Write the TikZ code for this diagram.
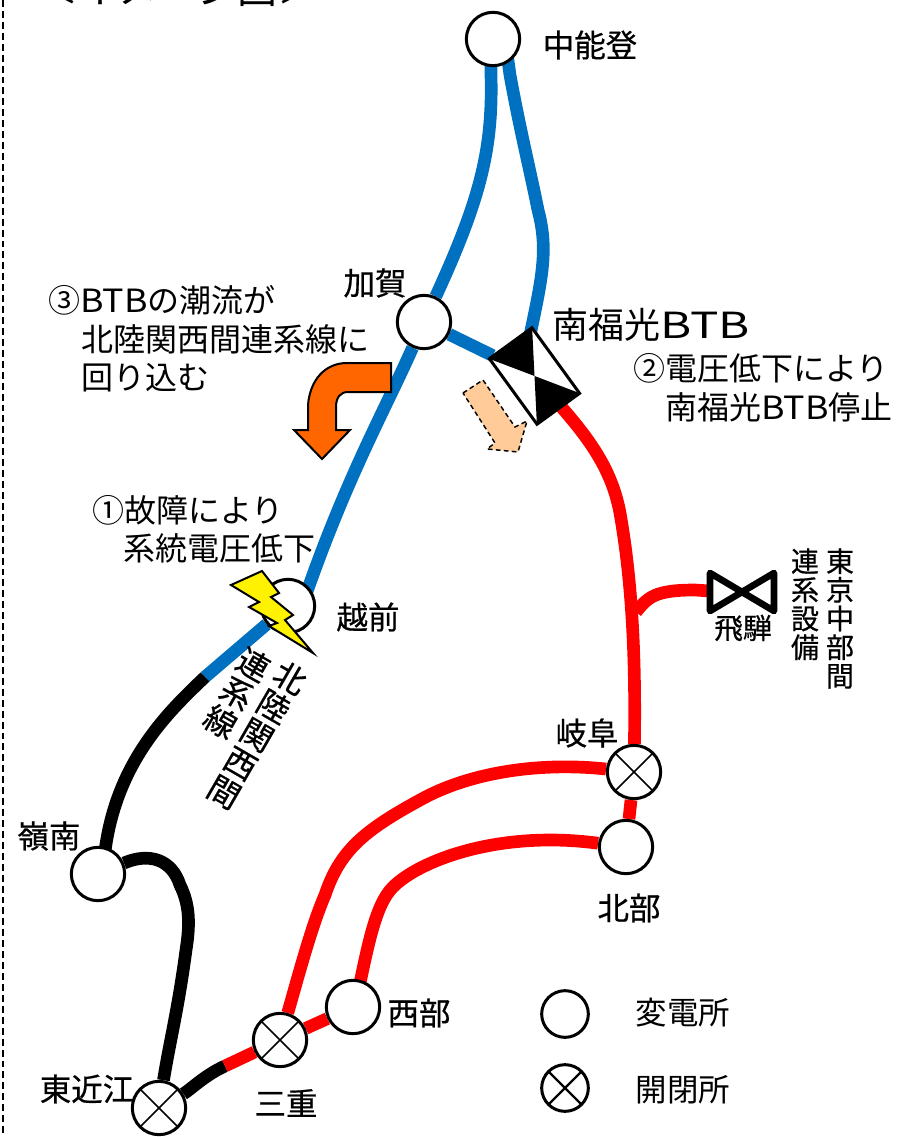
\documentclass[tikz,border=0pt]{standalone}
\usepackage{fontspec}
\usepackage{graphicx}
\setmainfont{Noto Sans CJK JP}
\newfontfamily\medfont[FakeBold=0.6]{Noto Sans CJK JP}
\usetikzlibrary{backgrounds,calc}
\definecolor{lineblue}{HTML}{0070C0}
\definecolor{linered}{HTML}{FF0000}
\definecolor{arroworange}{HTML}{FF6600}
\definecolor{arrowpeach}{HTML}{FFCC99}
\newcommand{\btbtxt}{\scalebox{1.12}[1]{BTB}}
\newcommand{\btbbig}{\scalebox{1.32}[1]{BTB}}
\tikzset{
  px/.style={x=0.75pt,y=-0.75pt},
  station/.style={circle,draw=black,fill=white,line width=2.25pt,inner sep=0pt,minimum size=40pt},
  legendst/.style={station,minimum size=35pt},
  crossed/.style={path picture={
    \draw[line width=#1]
      (path picture bounding box.north west) -- (path picture bounding box.south east)
      (path picture bounding box.north east) -- (path picture bounding box.south west);}},
  crossed/.default=1.1pt,
  wire/.style={line width=9.5pt,line cap=butt,line join=round},
  bluew/.style={wire,draw=lineblue},
  redw/.style={wire,draw=linered},
  blackw/.style={wire,draw=black},
  txt/.style={inner sep=0pt,anchor=west,font=\fontsize{24}{26}\selectfont},
  stname/.style={inner sep=0pt,font=\medfont\fontsize{23.6}{26}\selectfont},
  vtxt/.style={inner sep=0pt,align=center,font=\medfont\fontsize{21}{21.5}\selectfont},
  rtxt/.style={inner sep=0pt,align=center,rotate=-30,font=\medfont\fontsize{24}{24.7}\selectfont},
}
\begin{document}
\begin{tikzpicture}[px]
\useasboundingbox (0,0) rectangle (900,1137);
\clip (0,0) rectangle (900,1137);
\coordinate (dashtop) at (3,0);
\coordinate (dashbot) at (3,1137);
\draw[line width=1.1pt,dash pattern=on 5.2pt off 3pt] (dashtop) -- (dashbot);
\node[inner sep=0pt,font=\fontsize{30}{32}\selectfont] (title) at (178,-11) {＜イメージ図＞};
% stations
\node[station] (nn) at (493,39) {};
\node[station] (kg) at (424,322) {};
\node[station] (ec) at (288,606) {};
\node[station] (ry) at (98,874) {};
\node[station,crossed] (jo) at (159,1108) {};
\node[station,crossed] (mi) at (280,1040) {};
\node[station] (sb) at (353,1007) {};
\node[station,crossed] (gf) at (634,772) {};
\node[station] (hb) at (626,847) {};
% BTB
\node[draw=black,fill=white,line width=1.5pt,inner sep=0pt,minimum width=60pt,minimum height=38.7pt,rotate=-54] (btb) at (534.5,376) {};
\fill[black] (btb.south west) -- (btb.north west) -- (btb.center) -- cycle;
\fill[black] (btb.north east) -- (btb.south east) -- (btb.center) -- cycle;
\draw[line width=1.5pt,line join=miter] (btb.north west) -- (btb.north east) -- (btb.south east) -- (btb.south west) -- cycle;
% junction points
\coordinate (bluend) at (205,677);
\coordinate (redend) at (225,1066);
\coordinate (branch) at (636,612);
\coordinate (hdw) at (710,591);
\coordinate (hd) at (742,592);
% Hida bowtie
\draw[line width=5pt,line join=round,fill=white] ($(hd)+(-32,-19)$) -- ($(hd)+(32,19)$) -- ($(hd)+(32,-19)$) -- ($(hd)+(-32,19)$) -- cycle;
\begin{scope}[on background layer]
  \draw[bluew] ($(nn)+(-2,0)$) -- (491,75) .. controls (493,150) and (480,200) .. (kg);
  \draw[bluew] ($(nn)+(12,0)$) -- (510,75) .. controls (520,130) and (530,170) .. (538,210) .. controls (550,255) and (540,285) .. ($(btb)+(-10,-14)$);
  \draw[bluew] (kg) -- (btb);
  \draw[bluew] (kg) .. controls (385,410) and (345,480) .. ($(ec)+(14,0)$);
  \draw[bluew] (ec) -- (bluend);
  \draw[blackw] (bluend) .. controls (165,715) and (108,770) .. ($(ry)+(5,0)$);
  \draw[blackw] (ry) .. controls (150,852) and (172,860) .. (180,885) .. controls (190,905) and (190,925) .. (186,950) .. controls (178,1010) and (170,1040) .. (jo);
  \draw[blackw] (jo) .. controls (190,1090) and (205,1075) .. (redend);
  \draw[redw] (redend) -- (mi);
  \draw[redw] (mi) -- (sb);
  \draw[redw] (mi) .. controls (300,970) and (312,925) .. (325,895) .. controls (340,850) and (365,830) .. (420,800) .. controls (470,772) and (540,762) .. (gf);
  \draw[redw] ($(sb)+(2,0)$) .. controls (368,945) and (375,905) .. (393,887) .. controls (420,860) and (500,830) .. (hb);
  \draw[redw] (btb) .. controls (590,440) and (612,470) .. (620,513) .. controls (630,570) and (636,640) .. (gf);
  \draw[redw] (gf) -- (hb);
  \draw[redw] (branch) .. controls (648,597) and (655,590) .. (695,590) -- (hdw);
\end{scope}
% arrows
\draw[line width=1.5pt,fill=arroworange,line join=miter] (391,363) -- (391,392) -- (348,392) .. controls (340,392) and (336,398) .. (336,407) -- (336,430) -- (350,430) -- (322,459) -- (294,430) -- (308,430) -- (308,405) .. controls (310,380) and (325,363) .. (347,363) -- cycle;
\draw[line width=1.1pt,dash pattern=on 3.5pt off 2.5pt,fill=arrowpeach] (463,393) -- (483,380) -- (515,427) -- (527,421) -- (518,452) -- (487,449) -- (495,443) -- cycle;
% bolt
\draw[line width=1.5pt,fill=yellow,line join=miter] (231,585) -- (262,571) -- (279,593) -- (271,597) -- (293,615) -- (285,620) -- (313,653) -- (269,626) -- (277,623) -- (249,607) -- (259,602) -- cycle;
% legend
\node[legendst] (lg1) at (565,1014) {};
\node[legendst,crossed=1.8pt] (lg2) at (565,1088) {};
\node[stname,font=\fontsize{23.6}{26}\selectfont] (lg1t) at (683,1013) {変電所};
\node[stname,font=\fontsize{23.6}{26}\selectfont] (lg2t) at (683,1090) {開閉所};
% station names
\node[stname] (nnt) at (590,45) {中能登};
\node[stname] (kgt) at (375,283) {加賀};
\node[stname] (ect) at (368,617) {越前};
\node[stname] (ryt) at (49,836) {嶺南};
\node[stname] (jot) at (87,1089) {東近江};
\node[stname] (mit) at (286,1103) {三重};
\node[stname] (sbt) at (419,1013) {西部};
\node[stname] (gft) at (587,733) {岐阜};
\node[stname] (hbt) at (629,908) {北部};
\node[stname,font=\medfont\fontsize{21.5}{24}\selectfont] (hdt) at (743,628) {飛騨};
\node[inner sep=0pt,anchor=west,font=\fontsize{27}{30}\selectfont] (btbt) at (552,325) {南福光\btbbig};
% vertical
\node[vtxt,anchor=north] (v1) at (840,548) {東\\京\\中\\部\\間};
\node[vtxt,anchor=north] (v2) at (805,548) {連\\系\\設\\備};
\node[rtxt] (r1) at (257,735) {北\\陸\\関\\西\\間};
\node[rtxt] (r2) at (237,693) {連\\系\\線};
% notes
\node[txt] (n1a) at (48,300) {③\btbtxt の潮流が};
\node[txt] (n1b) at (81,339) {北陸関西間連系線に};
\node[txt] (n1c) at (81,378) {回り込む};
\node[txt] (n2a) at (633,368) {②電圧低下により};
\node[txt] (n2b) at (665,407) {南福光\btbtxt 停止};
\node[txt] (n3a) at (92,510) {①故障により};
\node[txt] (n3b) at (123,548) {系統電圧低下};
\end{tikzpicture}
\end{document}
